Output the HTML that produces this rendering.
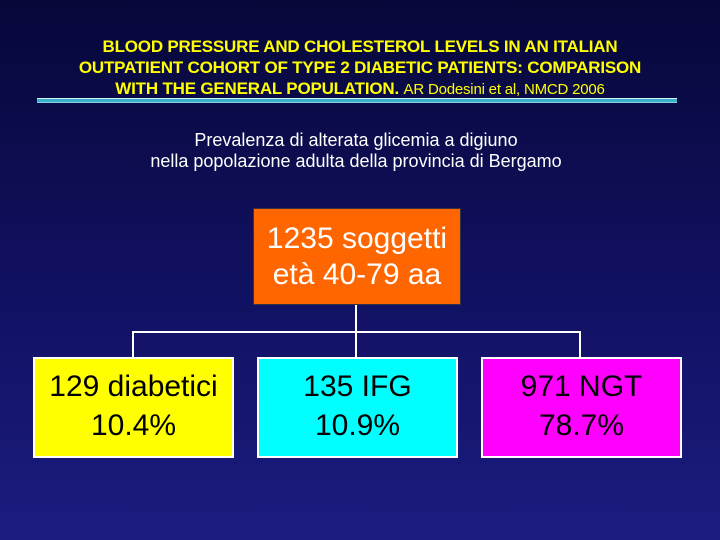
<!DOCTYPE html>
<html><head><style>
body{margin:0;width:720px;height:540px;overflow:hidden;background:linear-gradient(#07073a,#121266 60%,#1c1c80);font-family:"Liberation Sans",sans-serif;position:relative}
.t{position:absolute;left:0;width:720px;text-align:center;color:#ffff00;font-weight:bold;font-size:17px;line-height:21px;top:36px;letter-spacing:-0.2px}
.t span{font-weight:normal;font-size:15px}
.rule{position:absolute;left:37px;width:640px;top:98px;height:3px;background:#3ab0c8;border-top:1px solid #d0f0f8;border-bottom:1px solid #8ad0e0}
.sub{position:absolute;left:0;width:712px;text-align:center;color:#fff;font-size:18px;line-height:21px;top:130px}
.box{position:absolute;text-align:center;font-size:30px;box-sizing:border-box}
.w{position:absolute;background:#fff}
</style></head><body>
<div class="t">BLOOD PRESSURE AND CHOLESTEROL LEVELS IN AN ITALIAN<br>OUTPATIENT COHORT OF TYPE 2 DIABETIC PATIENTS: COMPARISON<br>WITH THE GENERAL POPULATION. <span>AR Dodesini et al, NMCD 2006</span></div>
<div class="rule"></div>
<div class="sub">Prevalenza di alterata glicemia a digiuno<br>nella popolazione adulta della provincia di Bergamo</div>
<div class="box" style="left:253px;top:208px;width:208px;height:97px;background:#ff6600;color:#fff;border:1px solid #334;padding-top:12px;line-height:36px">1235 soggetti<br>età 40-79 aa</div>
<div class="w" style="left:355px;top:305px;width:2px;height:53px"></div>
<div class="w" style="left:132px;top:331px;width:449px;height:2px"></div>
<div class="w" style="left:132px;top:331px;width:2px;height:27px"></div>
<div class="w" style="left:579px;top:331px;width:2px;height:27px"></div>
<div class="box" style="left:33px;top:357px;width:201px;height:101px;background:#ffff00;color:#000;border:2px solid #fff;padding-top:8px;line-height:39px">129 diabetici<br>10.4%</div>
<div class="box" style="left:257px;top:357px;width:201px;height:101px;background:#00ffff;color:#000;border:2px solid #fff;padding-top:8px;line-height:39px">135 IFG<br>10.9%</div>
<div class="box" style="left:481px;top:357px;width:201px;height:101px;background:#ff00ff;color:#000;border:2px solid #fff;padding-top:8px;line-height:39px">971 NGT<br>78.7%</div>
</body></html>
